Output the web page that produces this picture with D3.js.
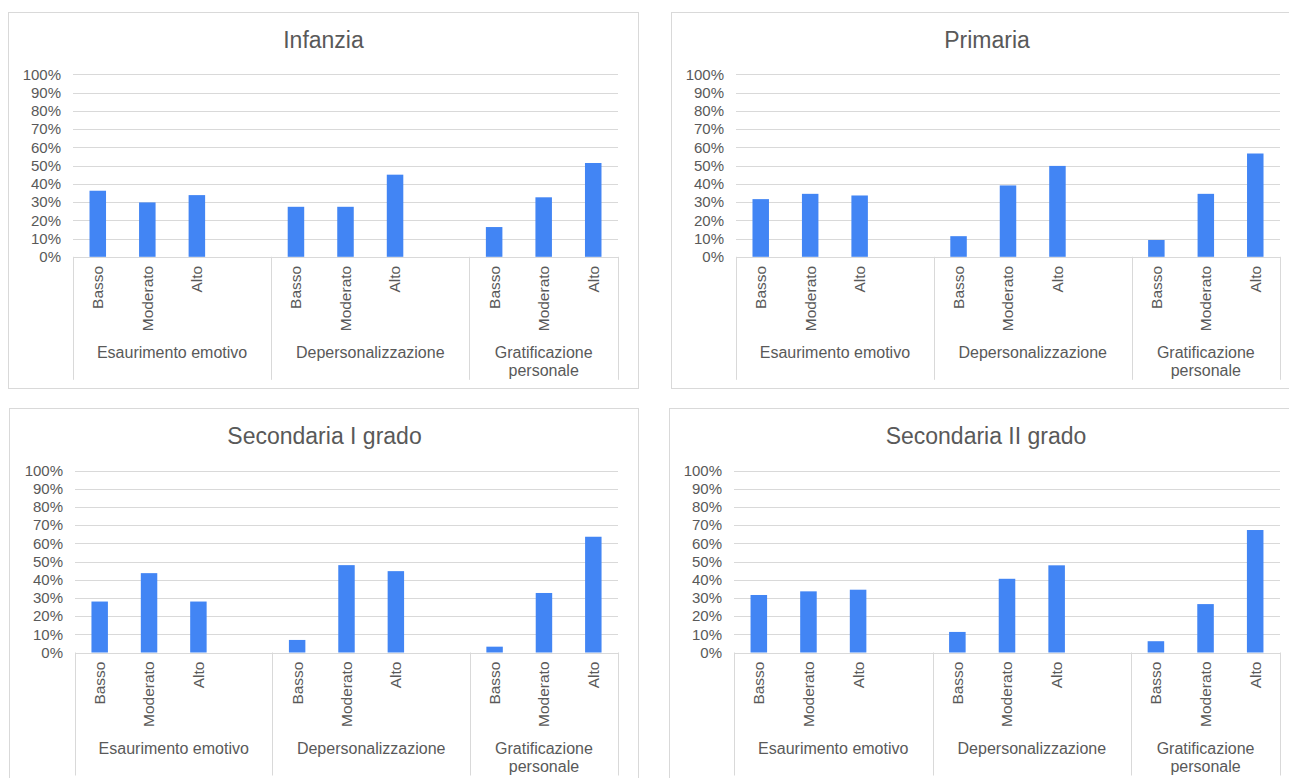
<!DOCTYPE html>
<html>
<head>
<meta charset="utf-8">
<script src="https://cdn.jsdelivr.net/npm/d3@7"></script>
<style>
  html, body { margin: 0; padding: 0; background: #ffffff; }
  svg { display: block; }
  text { font-family: "Liberation Sans", Arial, sans-serif; fill: #595959; }
</style>
</head>
<body>
<svg id="chart" width="1289" height="778"></svg>
<script>
// Levels inside each burnout dimension, and the dimensions themselves
const levels = ["Basso", "Moderato", "Alto"];
const dimensions = ["Esaurimento emotivo", "Depersonalizzazione", "Gratificazione personale"];
const dimensionLines = [["Esaurimento emotivo"], ["Depersonalizzazione"], ["Gratificazione", "personale"]];
const yTicks = [0, 10, 20, 30, 40, 50, 60, 70, 80, 90, 100];

// Percentages per school level (Basso, Moderato, Alto for each dimension)
const infanzia = [36.2, 29.8, 33.8, 27.4, 27.4, 45.0, 16.3, 32.6, 51.4];
const primaria = [31.6, 34.5, 33.6, 11.3, 39.1, 49.8, 9.2, 34.5, 56.6];
const secondariaI = [28.0, 43.6, 28.0, 6.9, 48.0, 44.7, 3.2, 32.7, 63.6];
const secondariaII = [31.6, 33.6, 34.5, 11.3, 40.5, 47.9, 6.2, 26.6, 67.3];

const titles = ["Infanzia", "Primaria", "Secondaria I grado", "Secondaria II grado"];
const seriesList = [infanzia, primaria, secondariaI, secondariaII];

// Frame and plot-area geometry for each panel
const panels = [
  { x: 8.5,   y: 12.5,  w: 630, h: 376, left: 73,  right: 618,  top: 74.3,  bottom: 256.8 },
  { x: 671.5, y: 12.5,  w: 640, h: 376, left: 736, right: 1280, top: 74.3,  bottom: 256.8 },
  { x: 9.5,   y: 408.5, w: 629, h: 376, left: 75,  right: 618,  top: 470.5, bottom: 652.5 },
  { x: 669.5, y: 408.5, w: 640, h: 376, left: 734, right: 1280, top: 470.5, bottom: 652.5 }
];

const GRID = "#d9d9d9";
const BAR = "#4285f4";
const svg = d3.select("#chart");

// Category slots: every dimension gets its three levels, the first two are
// followed by an empty slot
const slots = [];
dimensions.forEach((dim, di) => {
  levels.forEach((lv, li) => slots.push({ key: di + "-" + li, dim: di, level: lv, idx: di * 3 + li }));
  if (di < dimensions.length - 1) slots.push({ key: di + "-blank", dim: di, level: null });
});

panels.forEach((p, pi) => {
  const values = seriesList[pi];
  const g = svg.append("g");

  // chart frame
  g.append("rect")
    .attr("x", p.x).attr("y", p.y).attr("width", p.w).attr("height", p.h)
    .attr("fill", "#fff").attr("stroke", GRID).attr("stroke-width", 1);

  // title
  g.append("text")
    .attr("x", (p.left + p.right) / 2 + (pi % 2 === 0 ? -22 : -21))
    .attr("y", p.y + 35)
    .attr("text-anchor", "middle")
    .style("font-size", "23px")
    .text(titles[pi]);

  const x = d3.scaleBand().domain(slots.map(s => s.key)).range([p.left, p.right]).padding(0);
  const y = d3.scaleLinear().domain([0, 100]).range([p.bottom, p.top]);

  // horizontal gridlines
  g.append("g").selectAll("line").data(yTicks.filter(t => t > 0)).join("line")
    .attr("x1", p.left).attr("x2", p.right)
    .attr("y1", d => Math.round(y(d)) + 0.5).attr("y2", d => Math.round(y(d)) + 0.5)
    .attr("stroke", GRID).attr("stroke-width", 1);

  // value axis
  const yAxis = d3.axisLeft(y).tickValues(yTicks).tickSize(0).tickPadding(12).tickFormat(d => d + "%");
  const ya = g.append("g").attr("transform", `translate(${p.left},0)`).call(yAxis);
  ya.select(".domain").remove();
  ya.selectAll("text").style("font-size", "15px").attr("fill", "#595959").style("font-family", "Liberation Sans, Arial, sans-serif");

  // bars
  const bw = x.bandwidth() / 3;
  g.append("g").selectAll("rect").data(slots.filter(s => s.level !== null)).join("rect")
    .attr("x", s => x(s.key) + (x.bandwidth() - bw) / 2)
    .attr("width", bw)
    .attr("y", s => y(values[s.idx]))
    .attr("height", s => y(0) - y(values[s.idx]))
    .attr("fill", BAR);

  // category baseline
  g.append("line")
    .attr("x1", p.left).attr("x2", p.right)
    .attr("y1", Math.round(p.bottom) + 0.5).attr("y2", Math.round(p.bottom) + 0.5)
    .attr("stroke", GRID).attr("stroke-width", 1);

  // group separators
  const groupEdges = [p.left];
  dimensions.forEach((d, di) => {
    const last = slots.filter(s => s.dim === di).slice(-1)[0];
    groupEdges.push(x(last.key) + x.bandwidth());
  });
  g.append("g").selectAll("line").data(groupEdges).join("line")
    .attr("x1", d => Math.round(d) + 0.5).attr("x2", d => Math.round(d) + 0.5)
    .attr("y1", p.bottom).attr("y2", p.bottom + 123)
    .attr("stroke", GRID).attr("stroke-width", 1);

  // level labels (rotated)
  g.append("g").selectAll("text").data(slots.filter(s => s.level !== null)).join("text")
    .attr("transform", s => `translate(${x(s.key) + x.bandwidth() / 2},${p.bottom + 9}) rotate(-90)`)
    .attr("text-anchor", "end")
    .attr("dy", "0.35em")
    .style("font-size", "15.5px")
    .text(s => s.level);

  // dimension labels
  dimensionLines.forEach((lines, di) => {
    const cx = (groupEdges[di] + groupEdges[di + 1]) / 2;
    const t = g.append("text")
      .attr("x", cx)
      .attr("y", p.bottom + 101)
      .attr("text-anchor", "middle")
      .style("font-size", "16px");
    lines.forEach((ln, li) => {
      t.append("tspan").attr("x", cx).attr("dy", li === 0 ? 0 : 18).text(ln);
    });
  });
});
</script>
</body>
</html>
